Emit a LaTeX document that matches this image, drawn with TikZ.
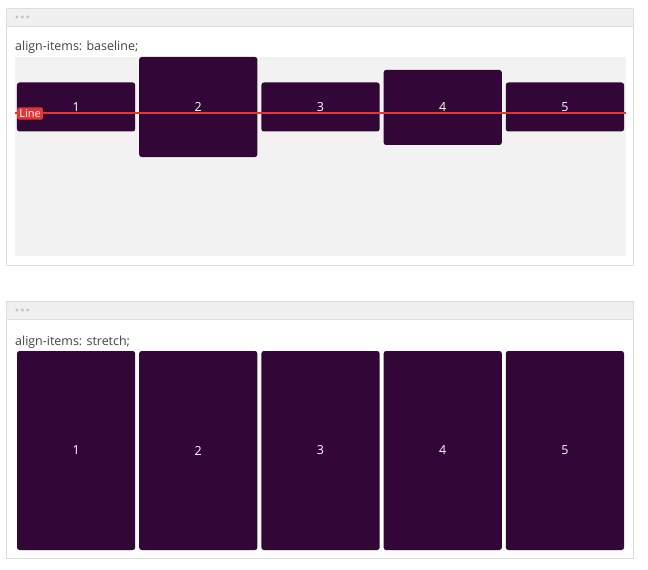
\documentclass[tikz,border=0pt]{standalone}
\usepackage{fontspec}
\setmainfont{Open Sans}
\usetikzlibrary{positioning}
\definecolor{itemfill}{RGB}{50,6,54}
\definecolor{barfill}{RGB}{240,240,240}
\definecolor{framedraw}{RGB}{221,221,221}
\definecolor{areafill}{RGB}{242,242,242}
\definecolor{dotfill}{RGB}{196,196,196}
\definecolor{titletext}{RGB}{68,68,68}
\definecolor{linered}{RGB}{228,52,52}
\tikzset{
  item/.style={fill=itemfill, rounded corners=2.5bp, text=white, inner sep=0pt, outer sep=0pt,
    minimum width=118.2bp, font=\fontsize{12.5}{14}\selectfont},
  frame/.style={draw=framedraw, fill=white, inner sep=0pt, minimum width=627bp, minimum height=257bp},
  bar/.style={draw=framedraw, fill=barfill, inner sep=0pt, minimum width=627bp, minimum height=18bp},
  title/.style={text=titletext, inner sep=0pt, font=\fontsize{12.5}{14}\selectfont},
  dot/.style={circle, fill=dotfill, inner sep=0pt, minimum size=3.4bp}
}
\begin{document}
\begin{tikzpicture}[x=1bp, y=-1bp]
\useasboundingbox (0,0) rectangle (648,570);
\node (frame1) [frame, anchor=north west] at (6,8) {};
\node (bar1) [bar, anchor=north] at (frame1.north) {};
\node (d1) [dot] at (17,17) {};
\node (d2) [dot, right=1.6bp of d1] {};
\node (d3) [dot, right=1.6bp of d2] {};
\node (title1) [title, anchor=base west] at (15,51) {align-items: baseline;};
\node (area1) [fill=areafill, inner sep=0pt, minimum width=611bp, minimum height=199bp, anchor=north west] at (15,57) {};
\node (b1) [item, minimum height=49bp] at (76.1,107) {1};
\node (b2) [item, minimum height=100bp] at (198.3,107) {2};
\node (b3) [item, minimum height=49bp] at (320.5,107) {3};
\node (b4) [item, minimum height=75bp] at (442.7,107.5) {4};
\node (b5) [item, minimum height=49bp] at (564.9,107) {5};
\coordinate (l1) at (area1.west |- 0,113);
\coordinate (l2) at (area1.east |- 0,113);
\draw[linered, line width=1.1bp] (l1) -- (l2);
\node (tag) [fill=linered, rounded corners=1.5bp, text=white, inner xsep=2.2bp, inner ysep=2bp, anchor=west,
  font=\fontsize{11}{12}\selectfont] at (17,113.5) {Line};
\node (frame2) [frame, anchor=north west] at (6,301) {};
\node (bar2) [bar, anchor=north] at (frame2.north) {};
\node (e1) [dot] at (17,310) {};
\node (e2) [dot, right=1.6bp of e1] {};
\node (e3) [dot, right=1.6bp of e2] {};
\node (title2) [title, anchor=base west] at (15,345) {align-items: stretch;};
\node (s1) [item, minimum height=199bp, anchor=north west] at (17,351) {1};
\node (s2) [item, minimum height=199bp, right=4bp of s1] {2};
\node (s3) [item, minimum height=199bp, right=4bp of s2] {3};
\node (s4) [item, minimum height=199bp, right=4bp of s3] {4};
\node (s5) [item, minimum height=199bp, right=4bp of s4] {5};
\end{tikzpicture}
\end{document}
